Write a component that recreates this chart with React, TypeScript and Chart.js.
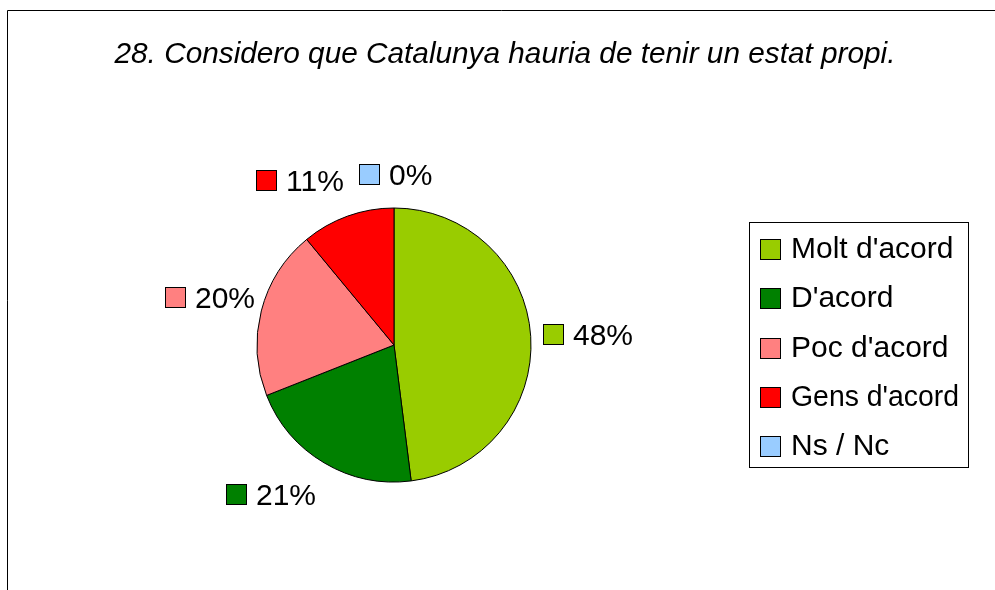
import React, { useEffect, useRef } from "react";
import { Chart, registerables } from "chart.js";

Chart.register(...registerables);

const TITLE = "28. Considero que Catalunya hauria de tenir un estat propi.";
const CATEGORIES = ["Molt d'acord", "D'acord", "Poc d'acord", "Gens d'acord", "Ns / Nc"];
const VALUES = [48, 21, 20, 11, 0];
const COLORS = ["#99CC00", "#008000", "#FF8080", "#FF0000", "#99CCFF"];

// layout / style constants
const FONT = "'Liberation Sans', Arial, Helvetica, sans-serif";
const W = 995;
const H = 590;
const PIE_CENTER_X = 394;
const PIE_CENTER_Y = 345;
const PIE_RADIUS = 137;
const LABEL_GAP = 12;
const LABEL_NUDGE: [number, number][] = [
  [0, 2],
  [-41, 11],
  [1, 0],
  [-40, -14],
  [1.5, -11],
];

const overlayPlugin = {
  id: "overlay",
  afterDraw(chart: any) {
    const ctx: CanvasRenderingContext2D = chart.ctx;
    ctx.save();

    // outer frame (left + top edges visible)
    ctx.strokeStyle = "#000";
    ctx.lineWidth = 1;
    ctx.beginPath();
    ctx.moveTo(7.5, H + 10);
    ctx.lineTo(7.5, 10.5);
    ctx.lineTo(W + 10, 10.5);
    ctx.stroke();

    // title
    ctx.fillStyle = "#000";
    ctx.font = `italic 30px ${FONT}`;
    ctx.textAlign = "center";
    ctx.textBaseline = "alphabetic";
    ctx.fillText(TITLE, 505, 63, 781);

    // data labels
    const total = VALUES.reduce((a, b) => a + b, 0);
    const meta = chart.getDatasetMeta(0);
    ctx.font = `30px ${FONT}`;
    ctx.textAlign = "left";
    meta.data.forEach((arc: any, i: number) => {
      const p = arc.getProps(["x", "y", "startAngle", "endAngle", "outerRadius"], true);
      const mid = (p.startAngle + p.endAngle) / 2;
      const dx = Math.cos(mid);
      const dy = Math.sin(mid);
      const label = Math.round((VALUES[i] / total) * 100) + "%";
      const tw = ctx.measureText(label).width;
      const w = 20 + 10 + tw;
      const h = 21;
      const tx = Math.abs(dx) > 1e-6 ? w / 2 / Math.abs(dx) : Infinity;
      const ty = Math.abs(dy) > 1e-6 ? h / 2 / Math.abs(dy) : Infinity;
      const t = Math.min(tx, ty);
      const d = p.outerRadius + LABEL_GAP + t;
      const cx = p.x + dx * d + LABEL_NUDGE[i][0];
      const cy = p.y + dy * d + LABEL_NUDGE[i][1];
      const left = Math.round(cx - w / 2);
      const top = Math.round(cy - h / 2);
      ctx.fillStyle = COLORS[i];
      ctx.fillRect(left + 0.5, top + 0.5, 20, 20);
      ctx.strokeStyle = "#000";
      ctx.lineWidth = 1;
      ctx.strokeRect(left + 0.5, top + 0.5, 20, 20);
      ctx.fillStyle = "#000";
      ctx.fillText(label, left + 30, top + 21);
    });

    // legend
    ctx.strokeStyle = "#000";
    ctx.lineWidth = 1;
    ctx.strokeRect(749.5, 222.5, 219, 245);
    ctx.font = `30px ${FONT}`;
    CATEGORIES.forEach((name, i) => {
      const base = Math.round(258 + i * 49.3);
      ctx.fillStyle = COLORS[i];
      ctx.fillRect(760.5, base - 18.5, 20, 20);
      ctx.strokeStyle = "#000";
      ctx.strokeRect(760.5, base - 18.5, 20, 20);
      ctx.fillStyle = "#000";
      ctx.fillText(name, 791, base, 168);
    });

    ctx.restore();
  },
};

export default function App() {
  const ref = useRef<HTMLCanvasElement | null>(null);

  useEffect(() => {
    if (!ref.current) return;
    const chart = new Chart(ref.current, {
      type: "pie",
      data: {
        labels: CATEGORIES,
        datasets: [
          {
            data: VALUES,
            backgroundColor: COLORS,
            borderColor: "#000",
            borderWidth: 1,
            hoverOffset: 0,
            offset: 0,
          },
        ],
      },
      options: {
        responsive: false,
        animation: false,
        radius: PIE_RADIUS,
        layout: {
          padding: {
            left: PIE_CENTER_X - PIE_RADIUS,
            right: W - (PIE_CENTER_X + PIE_RADIUS),
            top: PIE_CENTER_Y - PIE_RADIUS,
            bottom: H - (PIE_CENTER_Y + PIE_RADIUS),
          },
        },
        plugins: {
          legend: { display: false },
          tooltip: { enabled: false },
          title: { display: false },
        },
        events: [],
      } as any,
      plugins: [overlayPlugin],
    });
    return () => chart.destroy();
  }, []);

  return (
    <div style={{ position: "absolute", left: 0, top: 0, width: W, height: H, background: "#fff" }}>
      <canvas ref={ref} width={W} height={H} style={{ display: "block" }} />
    </div>
  );
}
